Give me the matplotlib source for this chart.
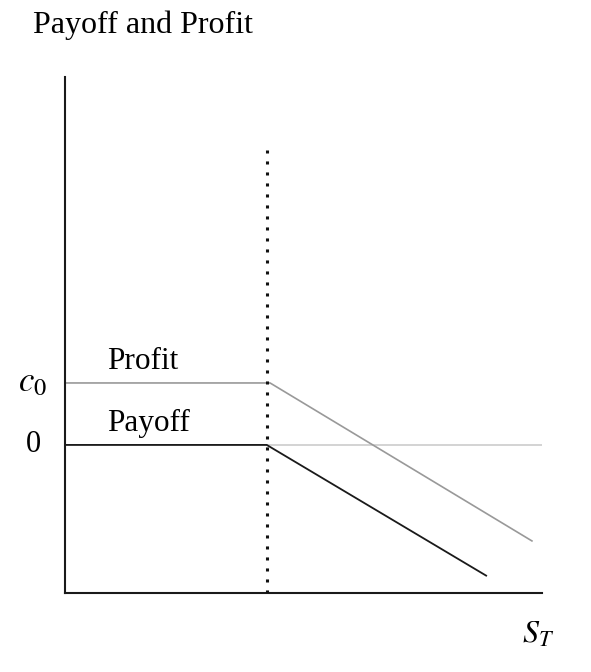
import matplotlib.pyplot as plt

plt.rcParams['font.family'] = 'Liberation Serif'
plt.rcParams['mathtext.fontset'] = 'stix'

# strike, premium and the two lines (S_T on x, value on y)
strike = 4.23
premium = 1.0
payoff_st = [0, 4.23, 8.83]
payoff = [0, 0, -2.11]
profit_st = [0, 4.30, 9.79]
profit = [1.0, 1.0, -1.55]

fig = plt.figure(figsize=(5.91, 6.72), dpi=100)
ax = fig.add_axes([0.110, 0.1176, 0.807, 0.7679])
ax.set_xlim(0, 10)
ax.set_ylim(-2.39, 5.94)

ax.axhline(0, color='#c8c8c8', lw=1.1, zorder=1)
ax.plot(profit_st, profit, color='#999999', lw=1.2, zorder=2)
ax.plot(payoff_st, payoff, color='#1a1a1a', lw=1.3, zorder=3)
ax.plot([strike, strike], [-2.39, 4.76], color='#111111', lw=2.2,
        linestyle=(0, (1, 2.6)), zorder=4)

ax.text(0.88, 1.22, 'Profit', fontsize=22.5, va='baseline', ha='left')
ax.text(0.88, 0.22, 'Payoff', fontsize=22.5, va='baseline', ha='left')

ax.set_xticks([])
ax.set_yticks([])
for s in ['top', 'right']:
    ax.spines[s].set_visible(False)
for s in ['left', 'bottom']:
    ax.spines[s].set_linewidth(1.5)
    ax.spines[s].set_color('#1a1a1a')

fig.text(33 / 591, 1 - 383 / 672, '$c_0$', fontsize=25, ha='center', va='center')
fig.text(33 / 591, 1 - 445 / 672, '0', fontsize=22, ha='center', va='center')
fig.text(538 / 591, 1 - 635 / 672, '$S_T$', fontsize=23, ha='center', va='center')
fig.text(33 / 591, 1 - 25 / 672, 'Payoff and Profit', fontsize=23, ha='left', va='center')

fig.savefig('out.png', dpi=100)
